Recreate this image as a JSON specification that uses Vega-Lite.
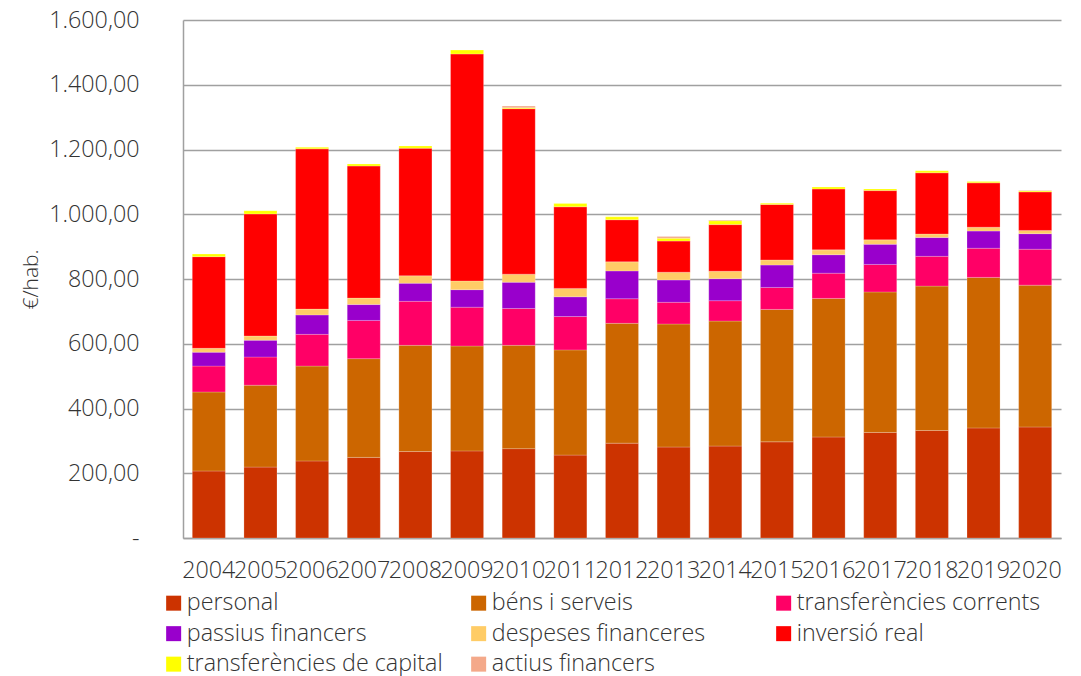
{"$schema":"https://vega.github.io/schema/vega-lite/v6.json","width":878,"height":518,"autosize":"none","padding":{"left":183,"top":20,"right":20,"bottom":138},"background":"white",
"data":{"values":[
{"any":"2004","c":"personal","o":1,"v":207},{"any":"2004","c":"béns i serveis","o":2,"v":244},{"any":"2004","c":"transferències corrents","o":3,"v":80},{"any":"2004","c":"passius financers","o":4,"v":43},{"any":"2004","c":"despeses financeres","o":5,"v":12},{"any":"2004","c":"inversió real","o":6,"v":283},{"any":"2004","c":"transferències de capital","o":7,"v":8},
{"any":"2005","c":"personal","o":1,"v":219},{"any":"2005","c":"béns i serveis","o":2,"v":253},{"any":"2005","c":"transferències corrents","o":3,"v":87},{"any":"2005","c":"passius financers","o":4,"v":52},{"any":"2005","c":"despeses financeres","o":5,"v":13},{"any":"2005","c":"inversió real","o":6,"v":377},{"any":"2005","c":"transferències de capital","o":7,"v":10},
{"any":"2006","c":"personal","o":1,"v":238},{"any":"2006","c":"béns i serveis","o":2,"v":293},{"any":"2006","c":"transferències corrents","o":3,"v":98},{"any":"2006","c":"passius financers","o":4,"v":60},{"any":"2006","c":"despeses financeres","o":5,"v":18},{"any":"2006","c":"inversió real","o":6,"v":495},{"any":"2006","c":"transferències de capital","o":7,"v":5},
{"any":"2007","c":"personal","o":1,"v":249},{"any":"2007","c":"béns i serveis","o":2,"v":305},{"any":"2007","c":"transferències corrents","o":3,"v":118},{"any":"2007","c":"passius financers","o":4,"v":49},{"any":"2007","c":"despeses financeres","o":5,"v":20},{"any":"2007","c":"inversió real","o":6,"v":408},{"any":"2007","c":"transferències de capital","o":7,"v":6},
{"any":"2008","c":"personal","o":1,"v":267},{"any":"2008","c":"béns i serveis","o":2,"v":328},{"any":"2008","c":"transferències corrents","o":3,"v":136},{"any":"2008","c":"passius financers","o":4,"v":56},{"any":"2008","c":"despeses financeres","o":5,"v":23},{"any":"2008","c":"inversió real","o":6,"v":394},{"any":"2008","c":"transferències de capital","o":7,"v":7},
{"any":"2009","c":"personal","o":1,"v":269},{"any":"2009","c":"béns i serveis","o":2,"v":324},{"any":"2009","c":"transferències corrents","o":3,"v":120},{"any":"2009","c":"passius financers","o":4,"v":54},{"any":"2009","c":"despeses financeres","o":5,"v":27},{"any":"2009","c":"inversió real","o":6,"v":701},{"any":"2009","c":"transferències de capital","o":7,"v":12},
{"any":"2010","c":"personal","o":1,"v":276},{"any":"2010","c":"béns i serveis","o":2,"v":319},{"any":"2010","c":"transferències corrents","o":3,"v":114},{"any":"2010","c":"passius financers","o":4,"v":81},{"any":"2010","c":"despeses financeres","o":5,"v":25},{"any":"2010","c":"inversió real","o":6,"v":511},{"any":"2010","c":"transferències de capital","o":7,"v":3},{"any":"2010","c":"actius financers","o":8,"v":5},
{"any":"2011","c":"personal","o":1,"v":256},{"any":"2011","c":"béns i serveis","o":2,"v":325},{"any":"2011","c":"transferències corrents","o":3,"v":103},{"any":"2011","c":"passius financers","o":4,"v":61},{"any":"2011","c":"despeses financeres","o":5,"v":26},{"any":"2011","c":"inversió real","o":6,"v":252},{"any":"2011","c":"transferències de capital","o":7,"v":10},
{"any":"2012","c":"personal","o":1,"v":293},{"any":"2012","c":"béns i serveis","o":2,"v":370},{"any":"2012","c":"transferències corrents","o":3,"v":76},{"any":"2012","c":"passius financers","o":4,"v":86},{"any":"2012","c":"despeses financeres","o":5,"v":28},{"any":"2012","c":"inversió real","o":6,"v":130},{"any":"2012","c":"transferències de capital","o":7,"v":9},
{"any":"2013","c":"personal","o":1,"v":281},{"any":"2013","c":"béns i serveis","o":2,"v":380},{"any":"2013","c":"transferències corrents","o":3,"v":67},{"any":"2013","c":"passius financers","o":4,"v":69},{"any":"2013","c":"despeses financeres","o":5,"v":24},{"any":"2013","c":"inversió real","o":6,"v":96},{"any":"2013","c":"transferències de capital","o":7,"v":9},{"any":"2013","c":"actius financers","o":8,"v":5},
{"any":"2014","c":"personal","o":1,"v":284},{"any":"2014","c":"béns i serveis","o":2,"v":386},{"any":"2014","c":"transferències corrents","o":3,"v":63},{"any":"2014","c":"passius financers","o":4,"v":68},{"any":"2014","c":"despeses financeres","o":5,"v":23},{"any":"2014","c":"inversió real","o":6,"v":144},{"any":"2014","c":"transferències de capital","o":7,"v":12},{"any":"2014","c":"actius financers","o":8,"v":2},
{"any":"2015","c":"personal","o":1,"v":297},{"any":"2015","c":"béns i serveis","o":2,"v":409},{"any":"2015","c":"transferències corrents","o":3,"v":68},{"any":"2015","c":"passius financers","o":4,"v":69},{"any":"2015","c":"despeses financeres","o":5,"v":16},{"any":"2015","c":"inversió real","o":6,"v":171},{"any":"2015","c":"transferències de capital","o":7,"v":4},
{"any":"2016","c":"personal","o":1,"v":312},{"any":"2016","c":"béns i serveis","o":2,"v":428},{"any":"2016","c":"transferències corrents","o":3,"v":78},{"any":"2016","c":"passius financers","o":4,"v":57},{"any":"2016","c":"despeses financeres","o":5,"v":15},{"any":"2016","c":"inversió real","o":6,"v":188},{"any":"2016","c":"transferències de capital","o":7,"v":6},
{"any":"2017","c":"personal","o":1,"v":326},{"any":"2017","c":"béns i serveis","o":2,"v":434},{"any":"2017","c":"transferències corrents","o":3,"v":85},{"any":"2017","c":"passius financers","o":4,"v":62},{"any":"2017","c":"despeses financeres","o":5,"v":14},{"any":"2017","c":"inversió real","o":6,"v":152},{"any":"2017","c":"transferències de capital","o":7,"v":5},
{"any":"2018","c":"personal","o":1,"v":332},{"any":"2018","c":"béns i serveis","o":2,"v":446},{"any":"2018","c":"transferències corrents","o":3,"v":92},{"any":"2018","c":"passius financers","o":4,"v":58},{"any":"2018","c":"despeses financeres","o":5,"v":11},{"any":"2018","c":"inversió real","o":6,"v":189},{"any":"2018","c":"transferències de capital","o":7,"v":6},
{"any":"2019","c":"personal","o":1,"v":340},{"any":"2019","c":"béns i serveis","o":2,"v":465},{"any":"2019","c":"transferències corrents","o":3,"v":90},{"any":"2019","c":"passius financers","o":4,"v":53},{"any":"2019","c":"despeses financeres","o":5,"v":12},{"any":"2019","c":"inversió real","o":6,"v":137},{"any":"2019","c":"transferències de capital","o":7,"v":4},
{"any":"2020","c":"personal","o":1,"v":343},{"any":"2020","c":"béns i serveis","o":2,"v":438},{"any":"2020","c":"transferències corrents","o":3,"v":111},{"any":"2020","c":"passius financers","o":4,"v":48},{"any":"2020","c":"despeses financeres","o":5,"v":10},{"any":"2020","c":"inversió real","o":6,"v":119},{"any":"2020","c":"transferències de capital","o":7,"v":3},{"any":"2020","c":"actius financers","o":8,"v":1}
]},
"mark":{"type":"bar","stroke":"#ffffff","strokeOpacity":0.35,"strokeWidth":0.6},
"encoding":{
"x":{"field":"any","type":"nominal","scale":{"paddingInner":0.36,"paddingOuter":0.18},"axis":{"title":null,"labelAngle":0,"labelFont":"Open Sans","labelFontWeight":300,"labelFontSize":23.3,"labelColor":"#333333","labelPadding":21,"ticks":false,"domainColor":"#a0a0a0","domainWidth":1.5,"labelOverlap":false,"labelBound":false,"grid":false}},
"y":{"field":"v","type":"quantitative","stack":"zero","scale":{"domain":[0,1600],"nice":false},"axis":{"values":[0,200,400,600,800,1000,1200,1400,1600],"title":"€/hab.","titleFont":"Open Sans","titleFontWeight":300,"titleFontSize":21,"titleColor":"#333333","titlePadding":7,"labelFont":"Open Sans","labelFontWeight":300,"labelFontSize":23.3,"labelColor":"#333333","labelPadding":44,"ticks":false,"domainColor":"#a0a0a0","domainWidth":1.5,"gridColor":"#a0a0a0","gridWidth":1.5,"labelExpr":"datum.value==0?'-':replace(replace(replace(format(datum.value,',.2f'),',','#'),'.',','),'#','.')"}},
"color":{"field":"c","type":"nominal","scale":{"domain":["personal","béns i serveis","transferències corrents","passius financers","despeses financeres","inversió real","transferències de capital","actius financers"],"range":["#cc3300","#cc6600","#ff0066","#9900cc","#ffcc66","#ff0000","#ffff00","#f4a98a"]},"legend":{"title":null,"orient":"none","legendX":-21,"legendY":571.5,"direction":"horizontal","columns":3,"gridAlign":"all","columnPadding":24,"rowPadding":6.5,"symbolType":"square","symbolSize":225,"symbolStrokeWidth":0,"symbolOpacity":1,"labelFont":"Open Sans","labelFontWeight":300,"labelFontSize":23.3,"labelColor":"#333333","labelOffset":1.5,"labelLimit":400}},
"order":{"field":"o","type":"quantitative"}},
"config":{"view":{"stroke":null}}}
